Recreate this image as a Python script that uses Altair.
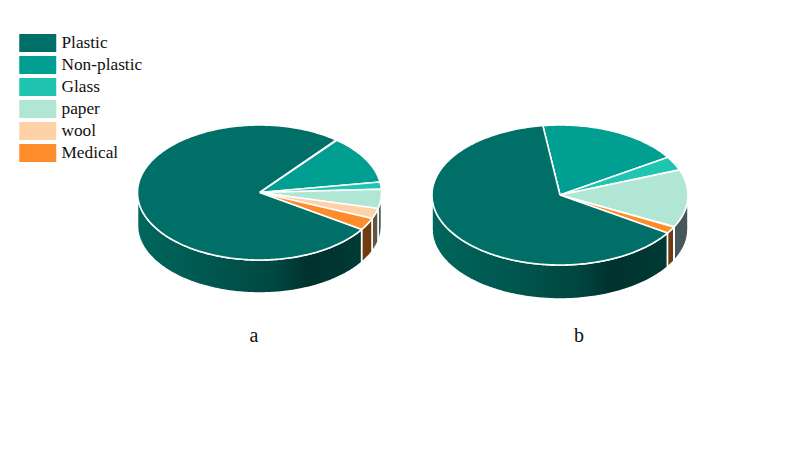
import numpy as np
import pandas as pd
import altair as alt

categories = ["Plastic", "Non-plastic", "Glass", "paper", "wool", "Medical"]
top_colors = ["#006f68", "#009f91", "#20c5b1", "#b2e6d4", "#ffd1a6", "#ff8c2b"]
wall_colors = [None, "#00524b", "#0f6258", "#46585a", "#625443", "#6f3c10"]
shares_a = [76.6, 11.6, 1.7, 4.6, 2.5, 2.9]
shares_b = [63.7, 18.1, 3.2, 13.3, 0.1, 1.6]
pie_names = ["a", "b"]
pie_shares = [shares_a, shares_b]
pie_start = [50.7, 97.7]          # ellipse angle where Non-plastic begins
pie_center = [(259.5, 192.5), (560.0, 195.0)]
pie_radii = [(122.0, 67.5), (128.0, 70.0)]
pie_depth = [33.0, 34.0]
caption_pos = [(254, 336), (579, 336)]

plastic_stops = [(0.0, "#00665d"), (0.35, "#00564e"), (0.62, "#004640"),
                 (0.76, "#00322e"), (1.0, "#003a35")]


def ell(cx, cy, rx, ry, deg, dy=0.0):
    t = np.radians(deg)
    return cx + rx * np.cos(t), cy - ry * np.sin(t) + dy


wedge_rows, wall_polys = [], []
for n, shares, start, (cx, cy), (rx, ry), depth in zip(
        pie_names, pie_shares, pie_start, pie_center, pie_radii, pie_depth):
    # clockwise from Non-plastic to Medical, then Plastic closes the circle
    seq = [1, 2, 3, 4, 5, 0]
    a = start
    for k in seq:
        b = a - shares[k] * 3.6
        if shares[k] >= 0.5:
            arc = np.linspace(a, b, max(3, int(abs(a - b)) + 2))
            xs, ys = ell(cx, cy, rx, ry, arc)
            px = [cx, *xs, cx]
            py = [cy, *ys, cy]
            for i, (x, y) in enumerate(zip(px, py)):
                wedge_rows.append(dict(key=f"{n}-{categories[k]}", cat=categories[k], i=i, x=x, y=y))
            # visible front wall: the part of the arc in the lower half
            lo, hi = min(a, b), max(a, b)
            for shift in (0, -360):
                l2, h2 = max(lo + shift, -180), min(hi + shift, 0)
                if h2 > l2:
                    w = np.linspace(l2, h2, max(3, int(h2 - l2) + 2))
                    tx, ty = ell(cx, cy, rx, ry, w)
                    bx, by = ell(cx, cy, rx, ry, w[::-1], depth)
                    qx = [*tx, *bx, tx[0]]
                    qy = [*ty, *by, ty[0]]
                    wall_polys.append((f"{n}-{k}-{shift}", k, qx, qy))
        a = b

X = alt.X("x:Q", scale=alt.Scale(domain=[8, 792]), axis=None)
Y = alt.Y("y:Q", scale=alt.Scale(domain=[442, 8]), axis=None)

layers = []
for key, k, qx, qy in wall_polys:
    df = pd.DataFrame(dict(x=qx, y=qy, i=range(len(qx))))
    if k == 0:
        fill = alt.Gradient(gradient="linear", x1=0, x2=1, y1=0, y2=0,
                            stops=[alt.GradientStop(offset=o, color=c) for o, c in plastic_stops])
    else:
        fill = wall_colors[k]
    layers.append(alt.Chart(df).mark_line(fill=fill, stroke="white", strokeWidth=1.6,
                                          interpolate="linear").encode(X, Y, order="i:Q"))

wedges = alt.Chart(pd.DataFrame(wedge_rows)).mark_line(
    stroke="white", strokeWidth=1.6, strokeJoin="miter", interpolate="linear"
).encode(
    X, Y, order="i:Q", detail="key:N",
    fill=alt.Fill("cat:N",
                  scale=alt.Scale(domain=categories, range=top_colors),
                  legend=alt.Legend(
                      title=None, orient="none", legendX=11, legendY=25.5,
                      symbolType="M-1,-0.98H3V0.98H-1Z", symbolSize=342,
                      symbolStrokeWidth=0, symbolOpacity=1,
                      labelFont="Liberation Serif", labelFontSize=17.3,
                      labelColor="#111111", labelOffset=23.5, rowPadding=3.0,
                      labelLimit=200, padding=0)),
)
layers.append(wedges)

caps = pd.DataFrame(dict(x=[p[0] for p in caption_pos], y=[p[1] for p in caption_pos], t=pie_names))
layers.append(alt.Chart(caps).mark_text(font="Liberation Serif", fontSize=20, color="#111111").encode(X, Y, text="t:N"))

chart = alt.layer(*layers).properties(
    width=784, height=434, padding=0, autosize=alt.AutoSizeParams(type="none"), background="white"
).configure_view(stroke=None)
chart.save("out.html", embed_options={"renderer": "svg", "actions": False})
